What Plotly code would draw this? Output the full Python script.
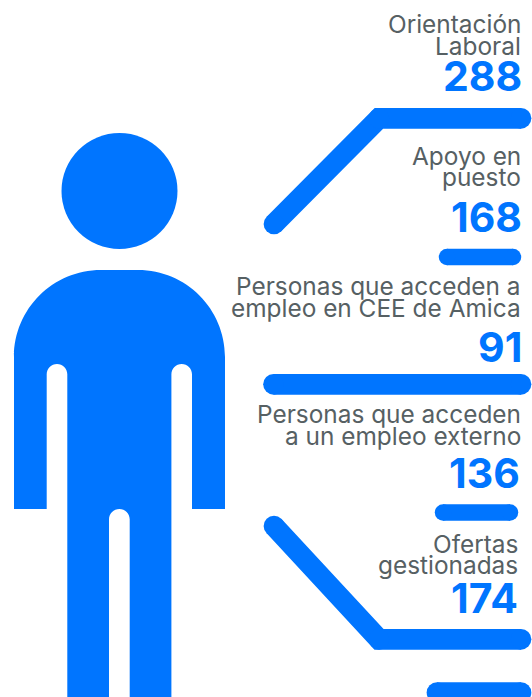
import plotly.graph_objects as go

# --- data ---
categories = [
    ["Orientación", "Laboral"],
    ["Apoyo en", "puesto"],
    ["Personas que acceden a", "empleo en CEE de Amica"],
    ["Personas que acceden", "a un empleo externo"],
    ["Ofertas", "gestionadas"],
]
values = [288, 168, 91, 136, 174]

# --- layout (pixels of the 532x697 canvas) ---
BLUE = "#0075ff"
GREY = "#566063"
LABEL_FONT = "Inter"
LABEL_SIZE = 24.4
VALUE_SIZE = 41
right_edge = [522, 522, 522, 522, 519]
value_edge = [522.5, 522.5, 522.5, 520.5, 518.5]
label_baselines = [(33, 55), (165, 186), (295, 317), (423, 445), (553, 574)]
value_baselines = [91, 232, 362, 488, 613]

connectors = [
    ([274, 379, 521], [224, 118.3, 118.3], 20.7),
    ([447, 513], [257, 257], 16.5),
    ([273.5, 521], [384.3, 384.3], 20.7),
    ([443, 510], [512.5, 512.5], 16.5),
    ([274, 379, 521], [526, 639.3, 639.3], 20.7),
    ([437, 521], [692.5, 692.5], 20.7),
]

fig = go.Figure()

for xs, ys, w in connectors:
    fig.add_trace(go.Scatter(
        x=xs, y=ys, mode="lines+markers",
        line=dict(color=BLUE, width=w),
        marker=dict(color=BLUE, size=w, line=dict(width=0)),
        hoverinfo="skip", showlegend=False, cliponaxis=False,
    ))

# person figure
k = 0.5523
R = 87
cap = 10.3
def corner_body():
    p = f"M14,509 L14,{270+R} "
    p += f"C14,{270+R-k*R} {14+R-k*R},270 {14+R},270 "
    p += f"L{225-R},270 "
    p += f"C{225-R+k*R},270 225,{270+R-k*R} 225,{270+R} "
    p += "L225,509 L192,509 "
    # right arm slot
    p += f"L192,{364+cap} C192,{364+cap-k*cap} {181.7+k*cap},364 181.7,364 C{181.7-k*cap},364 171.4,{364+cap-k*cap} 171.4,{364+cap} "
    p += "L171.4,697 L129.7,697 "
    # leg gap
    p += f"L129.7,{509+cap} C129.7,{509+cap-k*cap} {119.4+k*cap},509 119.4,509 C{119.4-k*cap},509 109,{509+cap-k*cap} 109,{509+cap} "
    p += "L109,697 L67.3,697 "
    # left arm slot
    p += f"L67.3,{364+cap} C67.3,{364+cap-k*cap} {57+k*cap},364 57,364 C{57-k*cap},364 46.7,{364+cap-k*cap} 46.7,{364+cap} "
    p += "L46.7,509 Z"
    return p

shapes = [
    dict(type="circle", x0=61.5, x1=177.5, y0=133, y1=249,
         fillcolor=BLUE, line=dict(width=0), layer="above"),
    dict(type="path", path=corner_body(), fillcolor=BLUE,
         line=dict(width=0), layer="above"),
]

annotations = []
for lines, val, rx, vx, lb, vb in zip(categories, values, right_edge, value_edge, label_baselines, value_baselines):
    for line, b in zip(lines, lb):
        annotations.append(dict(
            x=rx, y=b - 0.36 * LABEL_SIZE, xref="x", yref="y", text=line,
            showarrow=False, xanchor="right", yanchor="middle", borderpad=0,
            font=dict(family=LABEL_FONT, size=LABEL_SIZE, color=GREY),
        ))
    annotations.append(dict(
        x=vx, y=vb - 0.36 * VALUE_SIZE, xref="x", yref="y", text=f"<b>{val}</b>",
        showarrow=False, xanchor="right", yanchor="middle", borderpad=0,
        font=dict(family=LABEL_FONT, size=VALUE_SIZE, color=BLUE),
    ))

fig.update_layout(
    width=532, height=697, autosize=False,
    margin=dict(l=0, r=0, t=0, b=0),
    paper_bgcolor="white", plot_bgcolor="white",
    xaxis=dict(range=[0, 532], visible=False, fixedrange=True),
    yaxis=dict(range=[697, 0], visible=False, fixedrange=True),
    shapes=shapes, annotations=annotations, showlegend=False,
)
fig.write_html(
    "out.html",
    config=dict(displayModeBar=False),
    post_script="document.body.style.margin='0';document.documentElement.style.overflow='hidden';",
)
